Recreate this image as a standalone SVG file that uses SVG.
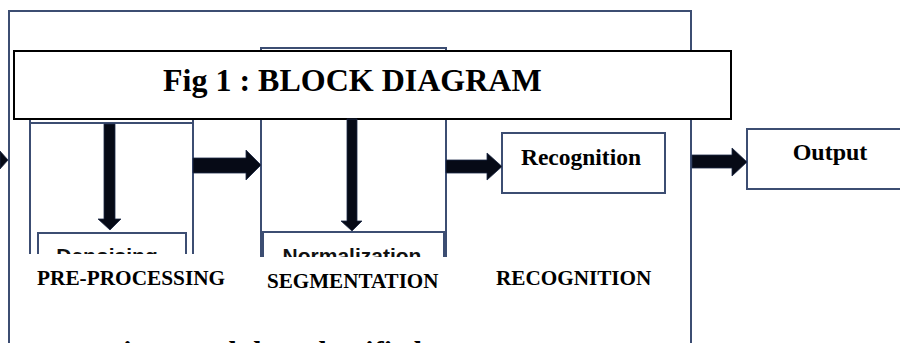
<svg xmlns="http://www.w3.org/2000/svg" width="900" height="343" viewBox="0 0 900 343">
  <style>
    .frame { fill: none; stroke: #3c4d72; stroke-width: 2; }
    .box { fill: #ffffff; stroke: #3c4d72; stroke-width: 2; }
    .arrow { fill: #060a16; stroke: #1c2846; stroke-width: 0.8; }
    .serif { font-family: "Liberation Serif", "Times New Roman", serif; font-weight: bold; fill: #000; }
    .sans { font-family: "Liberation Sans", Arial, sans-serif; font-weight: bold; fill: #111; }
  </style>
  <defs>
    <clipPath id="clipPre"><rect x="0" y="0" width="240" height="254"/></clipPath>
    <clipPath id="clipSeg"><rect x="250" y="0" width="220" height="257"/></clipPath>
  </defs>

  <rect width="900" height="343" fill="#ffffff"/>

  <!-- outer frame -->
  <g id="frame">
    <polyline class="frame" points="9,343 9,11 691,11 691,343"/>
  </g>

  <!-- pre-processing column -->
  <g id="preprocessing" clip-path="url(#clipPre)">
    <line class="frame" x1="30" y1="118" x2="30" y2="260"/>
    <line class="frame" x1="193" y1="118" x2="193" y2="260"/>
    <line class="frame" x1="30" y1="123" x2="193" y2="123"/>
    <rect class="box" x="38" y="233" width="148" height="40"/>
    <text class="sans" x="107" y="263" font-size="21" text-anchor="middle">Denoising</text>
  </g>

  <!-- segmentation column -->
  <g id="segmentation" clip-path="url(#clipSeg)">
    <line class="frame" x1="261" y1="47" x2="261" y2="260"/>
    <line class="frame" x1="446" y1="47" x2="446" y2="260"/>
    <line class="frame" x1="261" y1="48" x2="446" y2="48"/>
    <rect class="box" x="263" y="232" width="181" height="40"/>
    <text class="sans" x="352" y="263" font-size="21" text-anchor="middle">Normalization</text>
  </g>

  <!-- title banner -->
  <g id="title">
    <rect x="14" y="51" width="717" height="68" fill="#ffffff" stroke="#000" stroke-width="2"/>
    <text class="serif" x="163" y="91" font-size="32">Fig 1 : BLOCK DIAGRAM</text>
  </g>

  <g id="recognition">
    <rect class="box" x="502" y="133" width="163" height="60"/>
    <text class="serif" x="581" y="165" font-size="23.5" text-anchor="middle">Recognition</text>
  </g>

  <g id="output">
    <rect class="box" x="747" y="129" width="160" height="60"/>
    <text class="serif" x="830" y="160" font-size="24" text-anchor="middle">Output</text>
  </g>

  <!-- stage labels -->
  <g id="labels">
    <text class="serif" x="37" y="285" font-size="21.3">PRE-PROCESSING</text>
    <text class="serif" x="267" y="288" font-size="21.1">SEGMENTATION</text>
    <text class="serif" x="496" y="285" font-size="21.2">RECOGNITION</text>
    <text class="serif" x="105" y="362" font-size="30">Fig 2 Modular Classified</text>
  </g>

  <!-- connectors -->
  <g id="connectors">
    <polygon class="arrow" points="0,151 8,160 0,169"/>
    <polygon class="arrow" points="104,124 115,124 115,219 121,219 110,230 98,219 104,219"/>
    <polygon class="arrow" points="347,119 357,119 357,221 362,221 352,231 341,221 347,221"/>
    <polygon class="arrow" points="193,158 246,158 246,150 261,165 246,180 246,173 193,173"/>
    <polygon class="arrow" points="446,160 487,160 487,153 502,166.5 487,180 487,173 446,173"/>
    <polygon class="arrow" points="692,155 732,155 732,148 747,162 732,176 732,168 692,168"/>
  </g>
</svg>
